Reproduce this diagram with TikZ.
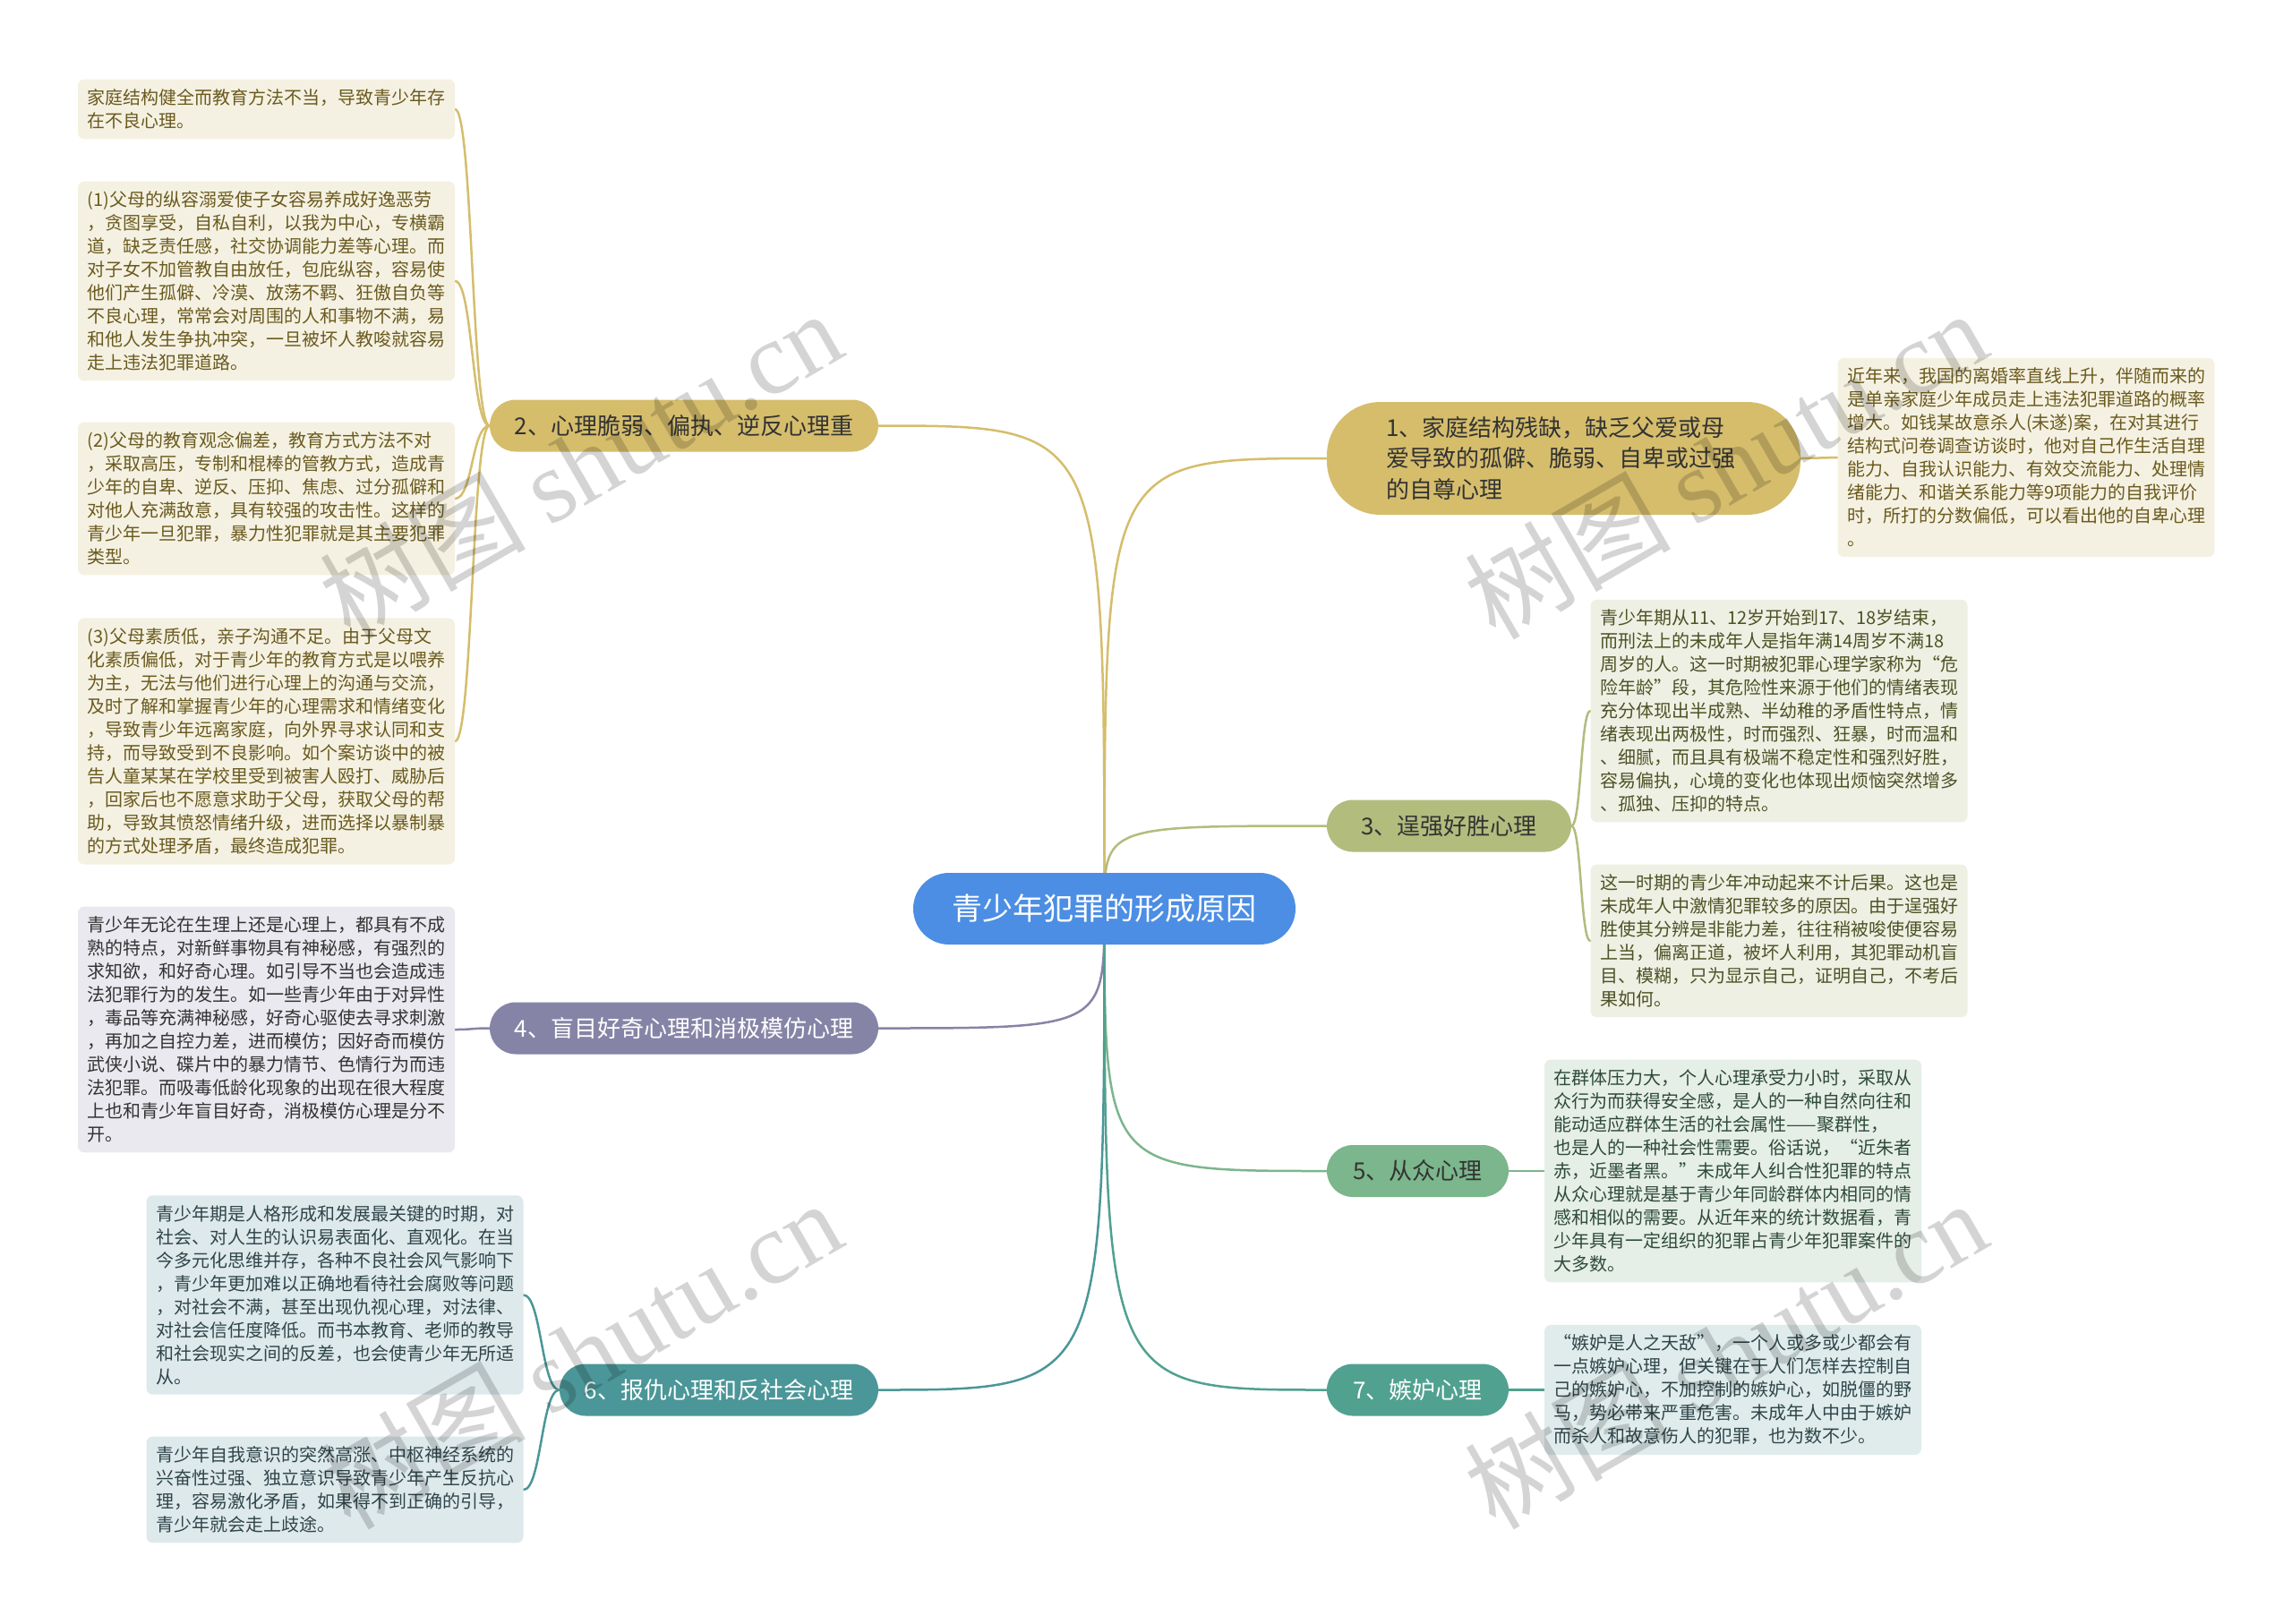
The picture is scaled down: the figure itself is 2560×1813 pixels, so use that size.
\documentclass[tikz,border=0pt]{standalone}
\usepackage{fontspec}
\setmainfont{Noto Sans CJK SC}
\newfontfamily\wmlatin{Liberation Serif}
\pgfdeclarelayer{bg}
\pgfdeclarelayer{background}
\pgfdeclarelayer{front}
\pgfsetlayers{bg,background,main,front}
\definecolor{cblue}{HTML}{4C8EE4}
\definecolor{cgold}{HTML}{D5BD6C}
\definecolor{colive}{HTML}{B2BC7D}
\definecolor{cpurp}{HTML}{8684A6}
\definecolor{cgreen}{HTML}{7CB68C}
\definecolor{cteal}{HTML}{4B9698}
\definecolor{cteal2}{HTML}{50A190}
\definecolor{fgold}{HTML}{F5F1E2}
\definecolor{folive}{HTML}{EFF0E4}
\definecolor{fpurp}{HTML}{E9E9EF}
\definecolor{fgreen}{HTML}{E6EEE8}
\definecolor{fteal}{HTML}{DEE9EC}
\definecolor{fteal2}{HTML}{E0ECEC}
\definecolor{tgold}{HTML}{6A5A1E}
\definecolor{tolive}{HTML}{4D5225}
\definecolor{tdark}{HTML}{333333}
\definecolor{tgreen}{HTML}{2E4B38}
\definecolor{tteal}{HTML}{2F4549}
\begin{document}
\begin{tikzpicture}[x=1pt,y=-1pt,
  leaf/.style={rounded corners=7pt, text width=400pt, inner xsep=10.5pt, inner ysep=11pt, align=left, font=\fontsize{20}{26}\selectfont},
  br/.style={inner sep=0pt, align=center, font=\fontsize{26}{34.5}\selectfont, minimum height=58pt, rounded corners=29pt},
  link/.style={line width=2.5pt, line cap=round},
  wm/.style={rotate=30, text=black, opacity=0.17, font=\fontsize{115}{115}\selectfont}
]
\begin{pgfonlayer}{bg}
\fill[white] (0,0) rectangle (2560,1813);
\end{pgfonlayer}
\useasboundingbox (0,0) rectangle (2560,1813);

% centre
\node[fill=cblue, text=white, minimum width=427pt, minimum height=80pt, rounded corners=40pt, inner sep=0pt, font=\fontsize{34}{40}\selectfont] (C) at (1233.5,1015) {青少年犯罪的形成原因};

% branches
\node[br, fill=cgold, text=tdark, align=left, text width=397pt, inner xsep=66pt, minimum height=126pt, rounded corners=60pt] (B1) at (1746.5,512) {1、家庭结构残缺，缺乏父爱或母\\爱导致的孤僻、脆弱、自卑或过强\\的自尊心理};
\node[br, fill=cgold, text=tdark, minimum width=434pt] (B2) at (764,475.5) {2、心理脆弱、偏执、逆反心理重};
\node[br, fill=colive, text=tdark, minimum width=273pt] (B3) at (1618.5,922.5) {3、逞强好胜心理};
\node[br, fill=cpurp, text=white, minimum width=434pt] (B4) at (764,1148.5) {4、盲目好奇心理和消极模仿心理};
\node[br, fill=cgreen, text=tdark, minimum width=203pt] (B5) at (1583.5,1308) {5、从众心理};
\node[br, fill=cteal, text=white, minimum width=356pt] (B6) at (803,1552.5) {6、报仇心理和反社会心理};
\node[br, fill=cteal2, text=white, minimum width=203pt] (B7) at (1583.5,1552.5) {7、嫉妒心理};

% leaves of branch 1
\node[leaf, fill=fgold, text=tgold] (L1) at (2263,511) {近年来，我国的离婚率直线上升，伴随而来的\\是单亲家庭少年成员走上违法犯罪道路的概率\\增大。如钱某故意杀人(未遂)案，在对其进行\\结构式问卷调查访谈时，他对自己作生活自理\\能力、自我认识能力、有效交流能力、处理情\\绪能力、和谐关系能力等9项能力的自我评价\\时，所打的分数偏低，可以看出他的自卑心理\\。};

% leaves of branch 2
\node[leaf, fill=fgold, text=tgold] (L2a) at (297.5,122) {家庭结构健全而教育方法不当，导致青少年存\\在不良心理。};
\node[leaf, fill=fgold, text=tgold] (L2b) at (297.5,314) {(1)父母的纵容溺爱使子女容易养成好逸恶劳\\，贪图享受，自私自利，以我为中心，专横霸\\道，缺乏责任感，社交协调能力差等心理。而\\对子女不加管教自由放任，包庇纵容，容易使\\他们产生孤僻、冷漠、放荡不羁、狂傲自负等\\不良心理，常常会对周围的人和事物不满，易\\和他人发生争执冲突，一旦被坏人教唆就容易\\走上违法犯罪道路。};
\node[leaf, fill=fgold, text=tgold] (L2c) at (297.5,557) {(2)父母的教育观念偏差，教育方式方法不对\\，采取高压，专制和棍棒的管教方式，造成青\\少年的自卑、逆反、压抑、焦虑、过分孤僻和\\对他人充满敌意，具有较强的攻击性。这样的\\青少年一旦犯罪，暴力性犯罪就是其主要犯罪\\类型。};
\node[leaf, fill=fgold, text=tgold] (L2d) at (297.5,828) {(3)父母素质低，亲子沟通不足。由于父母文\\化素质偏低，对于青少年的教育方式是以喂养\\为主，无法与他们进行心理上的沟通与交流，\\及时了解和掌握青少年的心理需求和情绪变化\\，导致青少年远离家庭，向外界寻求认同和支\\持，而导致受到不良影响。如个案访谈中的被\\告人童某某在学校里受到被害人殴打、威胁后\\，回家后也不愿意求助于父母，获取父母的帮\\助，导致其愤怒情绪升级，进而选择以暴制暴\\的方式处理矛盾，最终造成犯罪。};

% leaves of branch 3
\node[leaf, fill=folive, text=tolive] (L3a) at (1987,794) {青少年期从11、12岁开始到17、18岁结束，\\而刑法上的未成年人是指年满14周岁不满18\\周岁的人。这一时期被犯罪心理学家称为“危\\险年龄”段，其危险性来源于他们的情绪表现\\充分体现出半成熟、半幼稚的矛盾性特点，情\\绪表现出两极性，时而强烈、狂暴，时而温和\\、细腻，而且具有极端不稳定性和强烈好胜，\\容易偏执，心境的变化也体现出烦恼突然增多\\、孤独、压抑的特点。};
\node[leaf, fill=folive, text=tolive] (L3b) at (1987,1051) {这一时期的青少年冲动起来不计后果。这也是\\未成年人中激情犯罪较多的原因。由于逞强好\\胜使其分辨是非能力差，往往稍被唆使便容易\\上当，偏离正道，被坏人利用，其犯罪动机盲\\目、模糊，只为显示自己，证明自己，不考后\\果如何。};

% leaf of branch 4
\node[leaf, fill=fpurp, text=tdark] (L4) at (297.5,1150) {青少年无论在生理上还是心理上，都具有不成\\熟的特点，对新鲜事物具有神秘感，有强烈的\\求知欲，和好奇心理。如引导不当也会造成违\\法犯罪行为的发生。如一些青少年由于对异性\\，毒品等充满神秘感，好奇心驱使去寻求刺激\\，再加之自控力差，进而模仿；因好奇而模仿\\武侠小说、碟片中的暴力情节、色情行为而违\\法犯罪。而吸毒低龄化现象的出现在很大程度\\上也和青少年盲目好奇，消极模仿心理是分不\\开。};

% leaf of branch 5
\node[leaf, fill=fgreen, text=tgreen] (L5) at (1935.5,1308) {在群体压力大，个人心理承受力小时，采取从\\众行为而获得安全感，是人的一种自然向往和\\能动适应群体生活的社会属性——聚群性，\\也是人的一种社会性需要。俗话说，“近朱者\\赤，近墨者黑。”未成年人纠合性犯罪的特点\\从众心理就是基于青少年同龄群体内相同的情\\感和相似的需要。从近年来的统计数据看，青\\少年具有一定组织的犯罪占青少年犯罪案件的\\大多数。};

% leaves of branch 6
\node[leaf, fill=fteal, text=tteal] (L6a) at (374,1446.5) {青少年期是人格形成和发展最关键的时期，对\\社会、对人生的认识易表面化、直观化。在当\\今多元化思维并存，各种不良社会风气影响下\\，青少年更加难以正确地看待社会腐败等问题\\，对社会不满，甚至出现仇视心理，对法律、\\对社会信任度降低。而书本教育、老师的教导\\和社会现实之间的反差，也会使青少年无所适\\从。};
\node[leaf, fill=fteal, text=tteal] (L6b) at (374,1664) {青少年自我意识的突然高涨、中枢神经系统的\\兴奋性过强、独立意识导致青少年产生反抗心\\理，容易激化矛盾，如果得不到正确的引导，\\青少年就会走上歧途。};

% leaf of branch 7
\node[leaf, fill=fteal2, text=tteal] (L7) at (1935.5,1552.5) {“嫉妒是人之天敌”，一个人或多或少都会有\\一点嫉妒心理，但关键在于人们怎样去控制自\\己的嫉妒心，不加控制的嫉妒心，如脱僵的野\\马，势必带来严重危害。未成年人中由于嫉妒\\而杀人和故意伤人的犯罪，也为数不少。};

\begin{pgfonlayer}{background}
% centre to branches
\draw[link, cgold] (C.center) .. controls (C.center |- B1.west) .. (B1.west);
\draw[link, cgold] (C.center) .. controls (C.center |- B2.east) .. (B2.east);
\draw[link, colive] (C.center) .. controls (C.center |- B3.west) .. (B3.west);
\draw[link, cpurp] (C.center) .. controls (C.center |- B4.east) .. (B4.east);
\draw[link, cgreen] (C.center) .. controls (C.center |- B5.west) .. (B5.west);
\draw[link, cteal] (C.center) .. controls (C.center |- B6.east) .. (B6.east);
\draw[link, cteal2] (C.center) .. controls (C.center |- B7.west) .. (B7.west);
% branches to leaves
\draw[link, cgold] (B1.east) .. controls ([xshift=20pt]B1.east) and ([xshift=-20pt]L1.west) .. (L1.west);
\foreach \l in {L2a,L2b,L2c,L2d}
  \draw[link, cgold] (B2.west) .. controls ([xshift=-20pt]B2.west) and ([xshift=20pt]\l.east) .. (\l.east);
\foreach \l in {L3a,L3b}
  \draw[link, colive] (B3.east) .. controls ([xshift=11pt]B3.east) and ([xshift=-11pt]\l.west) .. (\l.west);
\draw[link, cpurp] (B4.west) .. controls ([xshift=-20pt]B4.west) and ([xshift=20pt]L4.east) .. (L4.east);
\draw[link, cgreen] (B5.east) .. controls ([xshift=20pt]B5.east) and ([xshift=-20pt]L5.west) .. (L5.west);
\foreach \l in {L6a,L6b}
  \draw[link, cteal] (B6.west) .. controls ([xshift=-20pt]B6.west) and ([xshift=20pt]\l.east) .. (\l.east);
\draw[link, cteal2] (B7.east) .. controls ([xshift=20pt]B7.east) and ([xshift=-20pt]L7.west) .. (L7.west);
\end{pgfonlayer}

\begin{pgfonlayer}{front}
\node[wm] (W1) at (648,518) {树图 {\wmlatin shutu.cn}};
\node[wm] (W2) at (1927,518) {树图 {\wmlatin shutu.cn}};
\node[wm] (W3) at (648,1512) {树图 {\wmlatin shutu.cn}};
\node[wm] (W4) at (1927,1512) {树图 {\wmlatin shutu.cn}};
\end{pgfonlayer}
\end{tikzpicture}
\end{document}
